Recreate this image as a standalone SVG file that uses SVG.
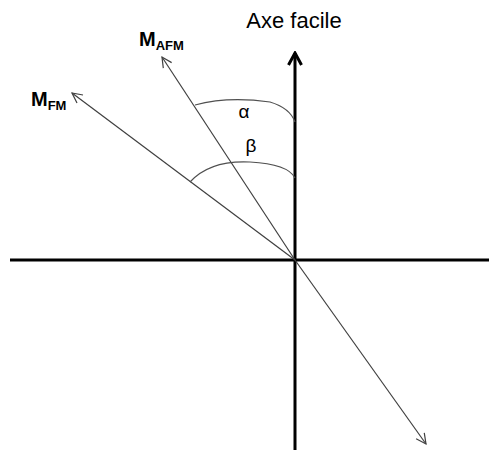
<svg xmlns="http://www.w3.org/2000/svg" width="489" height="455" viewBox="0 0 489 455">
<style>
.axis{stroke:#000;stroke-width:3;fill:none}
.vec{stroke:#404040;stroke-width:1.2;fill:none}
.arc{stroke:#505050;stroke-width:1.2;fill:none}
.t{font-family:"Liberation Sans",Arial,sans-serif;fill:#000}
.b{font-weight:bold}
</style>
<defs>
<marker id="open" viewBox="0 0 12 12" refX="11" refY="6" markerWidth="12" markerHeight="12" markerUnits="userSpaceOnUse" orient="auto">
<path d="M1,1 L11,6 L1,11" fill="none" stroke="#404040" stroke-width="1.2"/>
</marker>
<marker id="thick" viewBox="0 0 16 16" refX="14" refY="8" markerWidth="16" markerHeight="16" markerUnits="userSpaceOnUse" orient="auto">
<path d="M2,1.5 L14,8 L2,14.5" fill="none" stroke="#000" stroke-width="3"/>
</marker>
</defs>
<rect width="489" height="455" fill="#fff"/>
<g id="connectors">
<line class="axis" x1="10" y1="260" x2="489" y2="260"/>
<line class="axis" x1="295" y1="450" x2="295" y2="53" marker-end="url(#thick)"/>
<line class="vec" x1="295" y1="260" x2="162" y2="57" marker-end="url(#open)"/>
<line class="vec" x1="295" y1="260" x2="72" y2="93" marker-end="url(#open)"/>
<line class="vec" x1="295" y1="260" x2="426" y2="444" marker-end="url(#open)"/>
<path class="arc" d="M195,105 Q228,96 270,102 Q290,108 295,122"/>
<path class="arc" d="M190,182 Q210,160 250,162 Q288,164 295,178"/>
</g>
<g id="axe-label"><text class="t" x="294" y="28" font-size="22" text-anchor="middle">Axe facile</text></g>
<g id="m-afm"><text class="t b" x="139" y="46" font-size="20">M<tspan font-size="13" dy="4">AFM</tspan></text></g>
<g id="m-fm"><text class="t b" x="31" y="106" font-size="20">M<tspan font-size="13" dy="4">FM</tspan></text></g>
<g id="alpha"><text class="t" x="244" y="118" font-size="19" text-anchor="middle">α</text></g>
<g id="beta"><text class="t" x="251" y="152" font-size="19" text-anchor="middle">β</text></g>
</svg>
